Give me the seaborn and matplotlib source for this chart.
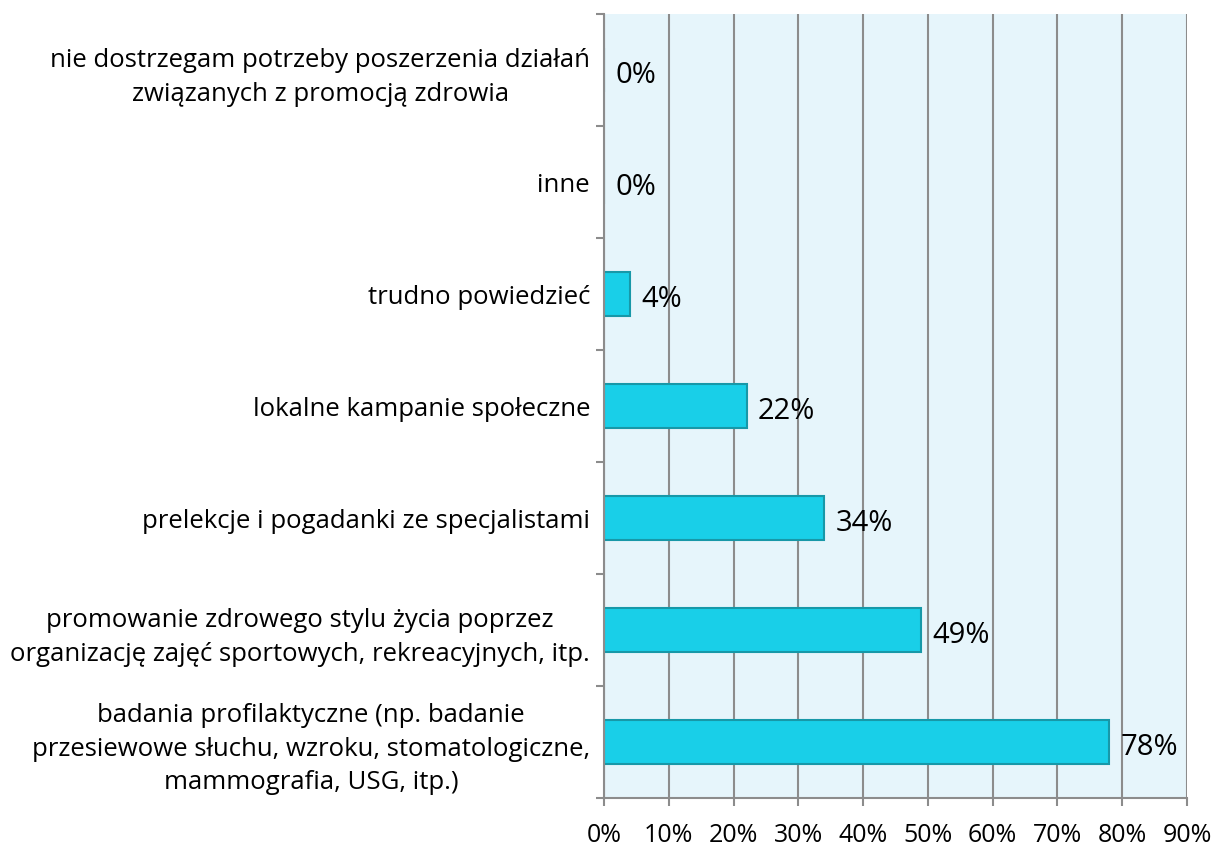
import matplotlib
matplotlib.use("Agg")
from matplotlib import pyplot as plt, ticker
import pandas as pd
import seaborn as sns

categories = [
    "nie dostrzegam potrzeby poszerzenia działań\nzwiązanych z promocją zdrowia",
    "inne",
    "trudno powiedzieć",
    "lokalne kampanie społeczne",
    "prelekcje i pogadanki ze specjalistami",
    "promowanie zdrowego stylu życia poprzez\norganizację zajęć sportowych, rekreacyjnych, itp.",
    "badania profilaktyczne (np. badanie\nprzesiewowe słuchu, wzroku, stomatologiczne,\nmammografia, USG, itp.)",
]
values = [0, 0, 4, 22, 34, 49, 78]
value_labels = ["0%", "0%", "4%", "22%", "34%", "49%", "78%"]
x_ticks = [0, 10, 20, 30, 40, 50, 60, 70, 80, 90]

df = pd.DataFrame({"cat": categories, "val": values})

sns.set_style("white")
plt.rcParams['font.family'] = ['Open Sans', 'DejaVu Sans']
plt.rcParams['text.color'] = 'black'

fig = plt.figure(figsize=(12.12, 8.46), dpi=100)
ax = fig.add_axes([604 / 1212, 1 - 798 / 846, (1187 - 604) / 1212, (798 - 14) / 846])
ax.set_facecolor("#E6F5FB")

sns.barplot(data=df, x="val", y="cat", order=categories, orient="h", width=0.4,
            color="#19CFE8", saturation=1, edgecolor="#1798A8", linewidth=1.5, ax=ax)

for i, (v, lab) in enumerate(zip(values, value_labels)):
    ax.annotate(lab, xy=(v, i), xytext=(8, -4), textcoords="offset points",
                ha="left", va="center", fontsize=21, color="black")

ax.set_xlim(0, 90)
ax.set_ylim(len(categories) - 0.5, -0.5)
ax.set_xticks(x_ticks)
ax.set_xticklabels([f"{t}%" for t in x_ticks], fontsize=18)
ax.xaxis.grid(True, color="#8C8C8C", lw=1.5)
ax.set_axisbelow(True)

# ticks at category boundaries, labels at centers
ax.yaxis.set_major_locator(ticker.FixedLocator([i - 0.5 for i in range(len(categories) + 1)]))
ax.yaxis.set_major_formatter(ticker.NullFormatter())
ax.yaxis.set_minor_locator(ticker.FixedLocator(range(len(categories))))
ax.yaxis.set_minor_formatter(ticker.FixedFormatter(categories))
ax.tick_params(axis="y", which="major", length=6, width=1.5, color="#8C8C8C", direction="out", left=True)
ax.tick_params(axis="y", which="minor", length=0, pad=10, labelsize=18.5, labelcolor="black")
ax.tick_params(axis="x", length=6, width=1.5, color="#8C8C8C", direction="out", bottom=True, pad=12,
               labelcolor="black")
for lab in ax.yaxis.get_minorticklabels():
    lab.set_multialignment("center")
    lab.set_linespacing(1.45)

ax.set_xlabel("")
ax.set_ylabel("")
for s in ["top", "right"]:
    ax.spines[s].set_visible(False)
for s in ["left", "bottom"]:
    ax.spines[s].set_color("#8C8C8C")
    ax.spines[s].set_linewidth(1.5)

fig.savefig("out.png", dpi=100)
